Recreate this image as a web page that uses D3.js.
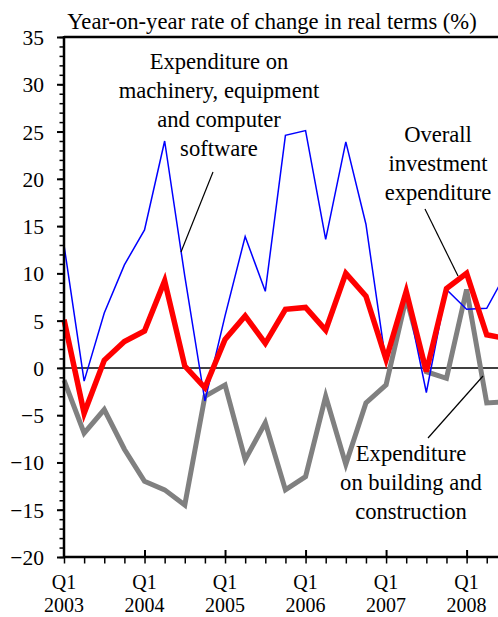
<!DOCTYPE html>
<html lang="en">
<head>
<meta charset="UTF-8">
<title>Investment expenditure</title>
<script src="https://d3js.org/d3.v7.min.js"></script>
<style>
  body { margin: 0; background: #fff; }
  svg text { font-family: "Liberation Serif", "Times New Roman", serif; font-size: 20px; fill: #000; }
  .axis path, .axis line { stroke: #000; }
  .note { font-size: 22.6px; }
</style>
</head>
<body>
<div id="chart"></div>
<script>
// quarters from Q1 2003 to Q3 2008
const quarters = d3.range(23).map(i => `Q${i % 4 + 1} ${2003 + Math.floor(i / 4)}`);
const years = ["2003", "2004", "2005", "2006", "2007", "2008"];

// year-on-year % change, real terms
const overall = [5.1, -4.8, 0.8, 2.8, 3.9, 9.2, 0.2, -2.1, 3.0, 5.5, 2.6, 6.2, 6.4, 4.0, 10.0, 7.6, 0.9, 8.1, -0.4, 8.4, 10.0, 3.5, 3.1];
const machinery = [13.0, -1.4, 5.8, 10.9, 14.6, 24.0, 9.7, -3.5, 5.5, 13.9, 8.1, 24.6, 25.1, 13.6, 23.9, 15.2, 0.4, 7.8, -2.6, 8.3, 6.2, 6.3, 10.2];
const building = [-1.3, -6.9, -4.4, -8.6, -12.0, -12.9, -14.5, -3.0, -1.8, -9.7, -5.8, -12.9, -11.5, -3.0, -10.2, -3.7, -1.8, 7.4, -0.4, -1.1, 8.3, -3.7, -3.6];

const yTicks = [-20, -15, -10, -5, 0, 5, 10, 15, 20, 25, 30, 35];

const W = 498, H = 617;
const plotLeft = 64, plotTop = 37, plotBottom = 557;

const svg = d3.select("#chart").append("svg")
  .attr("width", W).attr("height", H);

const x = d3.scaleLinear().domain([0, 22]).range([plotLeft, plotLeft + 22 * 20.13]);
const y = d3.scaleLinear().domain([-20, 35]).range([plotBottom, plotTop]);

// zero line
svg.append("line")
  .attr("x1", plotLeft).attr("x2", W)
  .attr("y1", y(0)).attr("y2", y(0))
  .attr("stroke", "#000").attr("stroke-width", 1.5);

// series
const line = d3.line().x((d, i) => x(i)).y(d => y(d));
const series = [
  { values: building, color: "#808080", width: 5 },
  { values: machinery, color: "#0000ff", width: 1.5 },
  { values: overall, color: "#ff0000", width: 5.5 }
];
series.forEach(s => {
  svg.append("path")
    .datum(s.values)
    .attr("d", line)
    .attr("fill", "none")
    .attr("stroke", s.color)
    .attr("stroke-width", s.width)
    .attr("stroke-linejoin", "miter");
});

// y axis: minor then major
svg.append("g").attr("class", "axis")
  .attr("transform", `translate(${plotLeft},0)`)
  .call(d3.axisLeft(y).tickValues(d3.range(-20, 36, 1)).tickSize(4.5).tickFormat(""))
  .call(g => g.select(".domain").remove())
  .selectAll("line").attr("stroke-width", 1.5);

svg.append("g").attr("class", "axis")
  .attr("transform", `translate(${plotLeft},0)`)
  .call(d3.axisLeft(y).tickValues(yTicks).tickSize(7).tickPadding(13))
  .call(g => g.select(".domain").remove())
  .call(g => g.selectAll("line").attr("stroke-width", 2))
  .call(g => g.selectAll("text").attr("dy", "0.35em").style("font-size", "21.5px"));

// frame lines
svg.append("line").attr("x1", plotLeft).attr("x2", plotLeft).attr("y1", plotTop - 1).attr("y2", plotBottom + 1)
  .attr("stroke", "#000").attr("stroke-width", 2.5);
svg.append("line").attr("x1", plotLeft).attr("x2", W).attr("y1", plotTop).attr("y2", plotTop)
  .attr("stroke", "#000").attr("stroke-width", 2.5);
svg.append("line").attr("x1", plotLeft).attr("x2", W).attr("y1", plotBottom).attr("y2", plotBottom)
  .attr("stroke", "#000").attr("stroke-width", 2.5);

// x axis ticks
const majorIdx = d3.range(0, 23, 4);
svg.append("g").attr("class", "axis")
  .attr("transform", `translate(0,${plotBottom})`)
  .call(d3.axisBottom(x).tickValues(d3.range(0, 23)).tickSize(6.5).tickFormat(""))
  .call(g => g.select(".domain").remove())
  .selectAll("line").attr("stroke-width", 1.5);

svg.append("g").attr("class", "axis")
  .attr("transform", `translate(0,${plotBottom})`)
  .call(d3.axisTop(x).tickValues(majorIdx.filter(i => i > 0)).tickSize(7).tickFormat(""))
  .call(g => g.select(".domain").remove())
  .selectAll("line").attr("stroke-width", 2);

// x labels
const xl = svg.append("g");
majorIdx.forEach((qi, k) => {
  const t = xl.append("text").attr("text-anchor", "middle").attr("x", x(qi));
  t.append("tspan").attr("x", x(qi)).attr("y", 589).text(quarters[qi].split(" ")[0]);
  t.append("tspan").attr("x", x(qi)).attr("y", 612).text(years[k]);
});

// title
svg.append("text")
  .attr("class", "note")
  .attr("x", 272).attr("y", 29)
  .attr("text-anchor", "middle")
  .text("Year-on-year rate of change in real terms (%)");

// annotations
function label(lines, cx, y0, dy) {
  const t = svg.append("text").attr("class", "note").attr("text-anchor", "middle");
  lines.forEach((s, i) => t.append("tspan").attr("x", cx).attr("y", y0 + i * dy).text(s));
}
label(["Expenditure on", "machinery, equipment", "and computer", "software"], 219, 69, 29);
label(["Overall", "investment", "expenditure"], 438, 142, 29);
label(["Expenditure", "on building and", "construction"], 411, 461, 29);

// leader lines
const leaders = [
  [[213, 172], [181, 252]],
  [[425, 209], [458, 276]],
  [[428, 438], [483, 376]]
];
leaders.forEach(l => {
  svg.append("line")
    .attr("x1", l[0][0]).attr("y1", l[0][1])
    .attr("x2", l[1][0]).attr("y2", l[1][1])
    .attr("stroke", "#000").attr("stroke-width", 1.2);
});
</script>
</body>
</html>
